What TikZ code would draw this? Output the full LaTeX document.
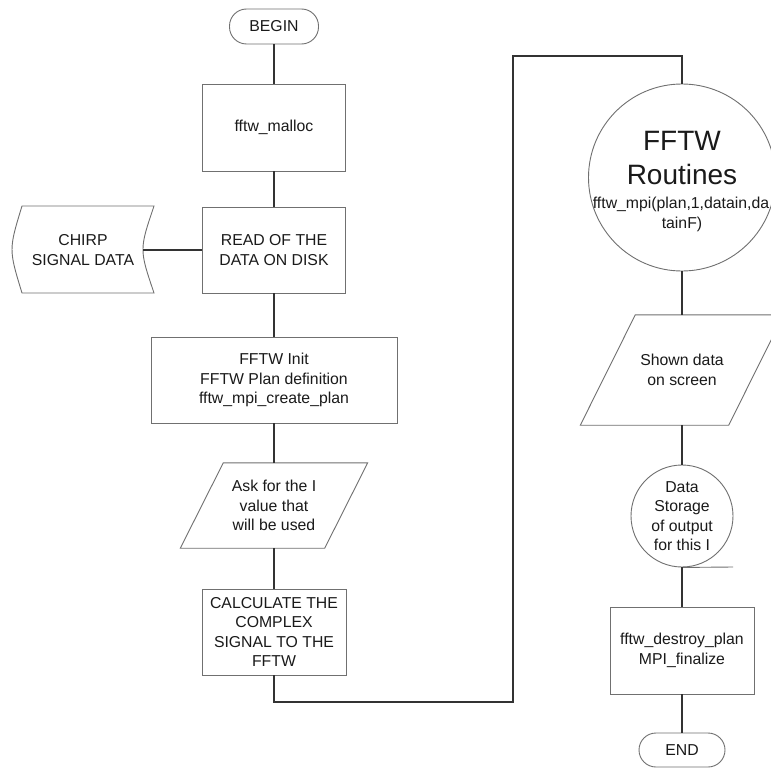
\documentclass[tikz,border=0pt]{standalone}
\usepackage{fontspec}
\setmainfont{Liberation Sans}
\definecolor{shapegray}{HTML}{707070}
\definecolor{linecol}{HTML}{333333}
\definecolor{txtcol}{HTML}{1A1A1A}
\begin{document}
\begin{tikzpicture}[x=1pt,y=-1pt,
  shp/.style={draw=shapegray, line width=0.9pt},
  txt/.style={align=center, font=\fontsize{15.8}{19.5}\selectfont, text=txtcol, inner sep=0pt},
  bigtxt/.style={font=\fontsize{28}{34}\selectfont, text=txtcol, inner sep=0pt},
  box/.style={shp, rectangle, txt},
  term/.style={box, rounded corners=17pt},
  conn/.style={draw=linecol, line width=1.1pt}]
\clip (0,0) rectangle (771,768);
\fill[white] (0,0) rectangle (771,768);

% left column
\node[term, minimum width=89pt, minimum height=35pt] (begin) at (274,26.5) {BEGIN};
\node[box, minimum width=143pt, minimum height=87pt] (malloc) at (274,127.5) {fftw\_malloc};
\node[box, minimum width=143pt, minimum height=86pt] (read) at (274,250) {READ OF THE\\DATA ON DISK};
\node[txt, minimum width=120pt] (chirp) at (83,250) {CHIRP\\SIGNAL DATA};
\draw[shp] (22,206) -- (154,206) .. controls (139.3,249.5) .. (154,293) -- (22,293) .. controls (8.7,249.5) .. (22,206) -- cycle;
\node[box, minimum width=246pt, minimum height=86pt] (init) at (274,380) {FFTW Init\\FFTW Plan definition\\fftw\_mpi\_create\_plan};
\node[txt, minimum width=144pt, minimum height=85pt] (ask) at (274,505.5) {Ask for the I\\value that\\will be used};
\draw[shp] ([xshift=21.5pt]ask.north west) -- ([xshift=21.5pt]ask.north east) -- ([xshift=-21.5pt]ask.south east) -- ([xshift=-21.5pt]ask.south west) -- cycle;
\node[box, minimum width=144pt, minimum height=86pt] (cplx) at (274,632) {CALCULATE THE\\COMPLEX\\SIGNAL TO THE\\FFTW};

% right column
\node[shp, circle, minimum size=187pt, inner sep=0pt] (fftw) at (682,177.5) {};
\node[bigtxt, anchor=base] (t1) at (682,150) {FFTW};
\node[bigtxt, anchor=base] (t2) at (682,184) {Routines};
\node[txt, anchor=base] (t3) at (681,208) {fftw\_mpi(plan,1,datain,da};
\node[txt, anchor=base] (t4) at (682,228) {tainF)};
\node[txt, minimum width=148pt, minimum height=110pt] (shown) at (682,370) {Shown data\\on screen};
\draw[shp] ([xshift=27.5pt]shown.north west) -- ([xshift=27.5pt]shown.north east) -- ([xshift=-27.5pt]shown.south east) -- ([xshift=-27.5pt]shown.south west) -- cycle;
\node[shp, circle, txt, minimum size=102pt] (store) at (682,516) {Data\\Storage\\of output\\for this I};
\coordinate (tail) at (733,567);
\draw[shp] (store.south) -- (tail);
\node[box, minimum width=144pt, minimum height=87pt] (destroy) at (682,650.5) {fftw\_destroy\_plan\\MPI\_finalize};
\node[term, minimum width=86pt, minimum height=34pt] (stop) at (682,750) {END};

% connectors
\draw[conn] (begin) -- (malloc);
\draw[conn] (malloc) -- (read);
\draw[conn] (chirp.east) -- (read.west);
\draw[conn] (read) -- (init);
\draw[conn] (init) -- (ask);
\draw[conn] (ask) -- (cplx);
\coordinate (lb) at (513,702);
\coordinate (lt) at (513,56);
\draw[conn] (cplx.south) |- (lb) -- (lt) -| (fftw.north);
\draw[conn] (fftw.south) -- (shown.north);
\draw[conn] (shown.south) -- (store.north);
\draw[conn] (store.south) -- (destroy.north);
\draw[conn] (destroy) -- (stop);
\end{tikzpicture}
\end{document}
